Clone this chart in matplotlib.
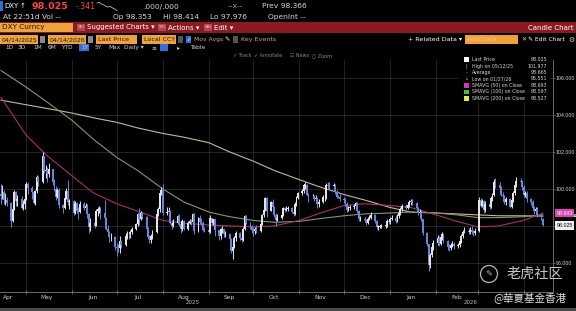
import matplotlib
matplotlib.use('Agg')
import matplotlib.pyplot as plt
import matplotlib.dates as mdates
import matplotlib.patches as patches
import matplotlib.transforms as mtrans
import numpy as np
import pandas as pd

W, H = 576, 311

# DXY daily candles 2025-04-14 .. 2026-04-14, one row = one week
closes = [
    99.64, 99.83, 99.38, 99.38, 99.23,
    98.28, 98.92, 99.85, 99.33, 99.47,
    98.99, 99.21, 99.47, 100.25, 100.03,
    99.83, 99.24, 99.89, 100.64, 100.35,
    101.79, 100.99, 101.04, 100.83, 101.09,
    100.36, 100.02, 99.55, 99.96, 99.11,
    98.99, 99.51, 99.88, 99.27, 99.33,
    98.71, 99.25, 98.79, 98.76, 99.19,
    98.95, 99.09, 98.64, 97.92, 98.18,
    98.02, 98.83, 98.90, 98.92, 98.71,
    98.42, 97.86, 97.67, 97.38, 97.40,
    96.88, 96.81, 96.79, 97.18, 96.97,
    97.48, 97.55, 97.54, 97.65, 97.86,
    98.08, 98.62, 98.40, 98.71, 98.49,
    97.85, 97.39, 97.22, 97.44, 97.65,
    98.63, 98.89, 99.80, 99.97, 98.69,
    98.78, 98.79, 98.18, 98.00, 98.18,
    98.52, 98.10, 97.84, 98.25, 97.85,
    98.17, 98.27, 98.23, 98.62, 97.72,
    98.43, 98.22, 98.18, 97.80, 97.77,
    97.67, 98.41, 98.15, 98.35, 97.77,
    97.45, 97.81, 97.81, 97.54, 97.55,
    97.31, 96.63, 96.87, 97.35, 97.64,
    97.33, 97.25, 97.86, 98.55, 98.15,
    97.94, 97.77, 97.71, 97.86, 97.72,
    98.11, 98.58, 98.86, 99.52, 98.83,
    99.27, 99.03, 98.60, 98.34, 98.43,
    98.58, 98.96, 98.88, 98.94, 98.95,
    98.78, 98.66, 99.20, 99.53, 99.80,
    99.87, 100.21, 100.22, 99.70, 99.60,
    99.63, 99.44, 99.50, 99.16, 99.30,
    99.55, 99.55, 100.23, 100.18, 100.17,
    100.17, 99.82, 99.59, 99.58, 99.46,
    99.40, 99.20, 98.85, 98.98, 99.00,
    99.10, 99.22, 98.80, 98.35, 98.40,
    98.30, 98.15, 98.40, 98.45, 98.60,
    98.25, 97.95, 97.95, 98.00, 98.00,
    98.05, 98.25, 98.20, 98.40, 98.45,
    98.25, 98.55, 98.70, 98.90, 99.10,
    98.95, 99.15, 99.30, 99.35, 99.25,
    98.95, 98.70, 98.75, 98.35, 97.60,
    97.00, 95.90, 96.45, 96.85, 97.10,
    97.35, 97.05, 97.40, 97.55, 97.20,
    96.85, 96.80, 96.95, 97.05, 96.90,
    96.95, 97.20, 97.45, 97.70, 97.75,
    97.70, 97.80, 97.65, 97.60, 97.75,
    99.40, 99.10, 99.35, 98.85, 99.20,
    99.05, 99.50, 99.65, 100.35, 100.20,
    100.05, 99.70, 99.60, 99.30, 99.45,
    99.05, 99.40, 99.80, 100.20, 100.45,
    100.35, 100.10, 99.65, 99.80, 99.45,
    99.30, 98.95, 98.80, 98.90, 98.60,
    98.366, 98.025,
]
opens = [
    99.75, 99.64, 99.83, 99.38, 99.38,
    99.23, 98.28, 98.92, 99.85, 99.33,
    99.47, 98.99, 99.21, 99.47, 100.25,
    100.03, 99.83, 99.24, 99.89, 100.64,
    100.35, 101.79, 100.99, 101.04, 100.83,
    101.09, 100.36, 100.02, 99.55, 99.96,
    99.11, 98.99, 99.51, 99.88, 99.27,
    99.33, 98.71, 99.25, 98.79, 98.76,
    99.19, 98.95, 99.09, 98.64, 97.92,
    98.18, 98.02, 98.83, 98.90, 98.92,
    98.71, 98.42, 97.86, 97.67, 97.38,
    97.40, 96.88, 96.81, 96.79, 97.18,
    96.97, 97.48, 97.55, 97.54, 97.65,
    97.86, 98.08, 98.62, 98.40, 98.71,
    98.49, 97.85, 97.39, 97.22, 97.44,
    97.65, 98.63, 98.89, 99.80, 99.97,
    98.69, 98.78, 98.79, 98.18, 98.00,
    98.18, 98.52, 98.10, 97.84, 98.25,
    97.85, 98.17, 98.27, 98.23, 98.62,
    97.72, 98.43, 98.22, 98.18, 97.80,
    97.77, 97.67, 98.41, 98.15, 98.35,
    97.77, 97.45, 97.81, 97.81, 97.54,
    97.55, 97.31, 96.63, 96.87, 97.35,
    97.64, 97.33, 97.25, 97.86, 98.55,
    98.15, 97.94, 97.77, 97.71, 97.86,
    97.72, 98.11, 98.58, 98.86, 99.52,
    98.83, 99.27, 99.03, 98.60, 98.34,
    98.43, 98.58, 98.96, 98.88, 98.94,
    98.95, 98.78, 98.66, 99.20, 99.53,
    99.80, 99.87, 100.21, 100.22, 99.70,
    99.60, 99.63, 99.44, 99.50, 99.16,
    99.30, 99.55, 99.55, 100.23, 100.18,
    100.17, 100.17, 99.82, 99.59, 99.58,
    99.46, 99.40, 99.20, 98.85, 98.98,
    99.00, 99.10, 99.22, 98.80, 98.35,
    98.40, 98.30, 98.15, 98.40, 98.45,
    98.60, 98.25, 97.95, 97.95, 98.00,
    98.00, 98.05, 98.25, 98.20, 98.40,
    98.45, 98.25, 98.55, 98.70, 98.90,
    99.10, 98.95, 99.15, 99.30, 99.35,
    99.25, 98.95, 98.70, 98.75, 98.35,
    97.60, 97.00, 95.90, 96.45, 96.85,
    97.10, 97.35, 97.05, 97.40, 97.55,
    97.20, 96.85, 96.80, 96.95, 97.05,
    96.90, 96.95, 97.20, 97.45, 97.70,
    97.75, 97.70, 97.80, 97.65, 97.60,
    97.75, 99.40, 99.10, 99.35, 98.85,
    99.20, 99.05, 99.50, 99.65, 100.35,
    100.20, 100.05, 99.70, 99.60, 99.30,
    99.45, 99.05, 99.40, 99.80, 100.20,
    100.45, 100.35, 100.10, 99.65, 99.80,
    99.45, 99.30, 98.95, 98.80, 98.90,
    98.60, 98.353,
]
highs = [
    100.28, 100.20, 99.92, 99.78, 99.55,
    99.30, 99.10, 99.95, 99.90, 99.70,
    99.60, 99.40, 99.70, 100.38, 100.40,
    100.15, 99.90, 99.95, 100.75, 100.70,
    101.977, 101.80, 101.30, 101.20, 101.40,
    101.10, 100.55, 100.15, 100.05, 100.05,
    99.20, 99.60, 100.05, 100.50, 99.45,
    99.40, 99.35, 99.30, 99.00, 99.35,
    99.30, 99.25, 99.20, 98.70, 98.45,
    98.35, 98.90, 99.05, 99.10, 99.00,
    99.40, 98.50, 98.05, 97.75, 97.60,
    97.45, 97.10, 97.05, 97.45, 97.25,
    97.60, 97.75, 97.70, 97.80, 97.95,
    98.15, 98.70, 98.95, 98.80, 98.75,
    98.55, 97.95, 97.50, 97.55, 97.80,
    98.70, 99.00, 99.95, 100.10, 100.25,
    99.00, 99.05, 98.85, 98.30, 98.35,
    98.60, 98.65, 98.15, 98.35, 98.30,
    98.25, 98.35, 98.35, 98.70, 98.70,
    98.50, 98.60, 98.45, 98.25, 97.95,
    97.85, 98.60, 98.45, 98.40, 98.40,
    97.80, 97.90, 98.00, 97.85, 97.75,
    97.60, 97.35, 97.20, 97.45, 97.75,
    97.70, 97.50, 97.95, 98.60, 98.60,
    98.20, 98.05, 97.95, 97.95, 98.05,
    98.20, 98.65, 99.05, 99.55, 99.55,
    99.35, 99.45, 99.10, 98.70, 98.65,
    98.70, 99.00, 99.05, 99.10, 99.10,
    99.00, 98.85, 99.30, 99.60, 99.85,
    100.00, 100.25, 100.36, 100.25, 99.80,
    99.75, 99.70, 99.65, 99.55, 99.45,
    99.65, 99.70, 100.30, 100.35, 100.40,
    100.30, 100.25, 99.95, 99.70, 99.75,
    99.55, 99.50, 99.30, 99.10, 99.15,
    99.20, 99.30, 99.30, 98.85, 98.55,
    98.50, 98.35, 98.50, 98.60, 98.75,
    98.65, 98.30, 98.05, 98.05, 98.10,
    98.15, 98.35, 98.30, 98.50, 98.60,
    98.60, 98.65, 98.80, 99.00, 99.20,
    99.20, 99.25, 99.40, 99.45, 99.45,
    99.30, 99.05, 98.90, 98.85, 98.40,
    97.65, 97.05, 96.55, 96.95, 97.25,
    97.50, 97.45, 97.55, 97.65, 97.60,
    97.25, 97.05, 97.10, 97.20, 97.15,
    97.10, 97.30, 97.55, 97.80, 97.95,
    97.90, 97.95, 98.00, 97.80, 97.90,
    99.55, 99.50, 99.45, 99.40, 99.35,
    99.30, 99.60, 99.80, 100.55, 100.60,
    100.35, 100.15, 99.85, 99.70, 99.55,
    99.50, 99.50, 99.90, 100.30, 100.65,
    100.60, 100.50, 100.20, 99.90, 99.90,
    99.50, 99.40, 99.10, 99.05, 99.00,
    98.70, 98.414,
]
lows = [
    99.20, 99.45, 99.20, 99.15, 99.10,
    97.92, 98.20, 98.85, 99.10, 99.10,
    98.90, 98.85, 98.90, 99.40, 99.75,
    99.45, 99.20, 99.15, 99.80, 100.15,
    100.30, 100.85, 100.60, 100.40, 100.65,
    100.20, 99.90, 99.40, 99.50, 98.95,
    98.70, 98.90, 99.45, 99.15, 98.90,
    98.58, 98.65, 98.70, 98.35, 98.70,
    98.85, 98.80, 98.45, 97.60, 97.75,
    97.90, 98.00, 98.55, 98.70, 98.40,
    98.30, 97.80, 97.60, 97.15, 97.20,
    96.70, 96.38, 96.60, 96.55, 96.80,
    96.90, 97.30, 97.30, 97.35, 97.55,
    97.80, 98.00, 98.05, 98.30, 98.35,
    97.80, 97.30, 97.10, 97.10, 97.30,
    97.60, 98.55, 98.75, 99.70, 98.60,
    98.60, 98.55, 98.10, 97.85, 97.95,
    98.10, 98.00, 97.60, 97.75, 97.80,
    97.80, 98.10, 98.05, 98.20, 97.55,
    97.70, 98.10, 98.05, 97.75, 97.65,
    97.55, 97.60, 98.05, 98.05, 97.45,
    97.25, 97.30, 97.60, 97.40, 97.40,
    97.20, 96.55, 96.22, 96.80, 97.20,
    97.25, 97.15, 97.20, 97.80, 98.10,
    97.85, 97.60, 97.45, 97.55, 97.60,
    97.70, 98.05, 98.50, 98.80, 98.50,
    98.80, 98.85, 98.50, 98.00, 98.25,
    98.40, 98.55, 98.75, 98.80, 98.80,
    98.70, 98.55, 98.60, 99.10, 99.45,
    99.65, 99.80, 100.00, 99.65, 99.30,
    99.50, 99.35, 99.35, 98.95, 99.05,
    99.25, 99.35, 99.45, 100.00, 100.00,
    99.95, 99.75, 99.50, 99.50, 99.35,
    99.25, 99.10, 98.75, 98.80, 98.85,
    98.90, 98.95, 98.70, 98.25, 98.25,
    98.20, 98.05, 98.10, 98.30, 98.35,
    98.15, 97.85, 97.80, 97.90, 97.90,
    97.90, 97.95, 98.10, 98.10, 98.30,
    98.15, 98.20, 98.45, 98.60, 98.80,
    98.85, 98.90, 99.05, 99.15, 99.15,
    98.85, 98.60, 98.55, 98.25, 97.50,
    96.90, 95.551, 95.75, 96.30, 96.70,
    96.95, 96.90, 96.95, 97.25, 97.10,
    96.70, 96.65, 96.70, 96.85, 96.75,
    96.80, 96.85, 97.10, 97.35, 97.60,
    97.55, 97.55, 97.55, 97.45, 97.50,
    97.70, 99.00, 99.00, 98.70, 98.75,
    98.90, 98.95, 99.35, 99.60, 100.05,
    99.95, 99.60, 99.45, 99.20, 99.15,
    98.95, 98.95, 99.30, 99.70, 100.10,
    100.20, 99.95, 99.55, 99.55, 99.30,
    99.15, 98.85, 98.65, 98.70, 98.50,
    98.30, 97.976,
]

# moving averages (semi-monthly points)
ma_dates = ['2025-04-14', '2025-05-01', '2025-05-15', '2025-06-01', '2025-06-15',
            '2025-07-01', '2025-07-15', '2025-08-01', '2025-08-15', '2025-09-01',
            '2025-09-15', '2025-10-01', '2025-10-15', '2025-11-01', '2025-11-15',
            '2025-12-01', '2025-12-15', '2026-01-01', '2026-01-15', '2026-02-01',
            '2026-02-15', '2026-03-01', '2026-03-15', '2026-04-01', '2026-04-14']
sma50 = [104.95, 102.9, 101.8, 100.7, 99.8, 99.2, 98.8, 98.3, 98.15, 98.05,
         98.0, 97.95, 98.0, 98.3, 98.7, 99.1, 99.2, 99.1, 99.0, 98.6,
         98.25, 97.95, 98.0, 98.3, 98.693]
sma100 = [106.4, 105.5, 104.7, 103.7, 102.7, 101.7, 101.0, 100.0, 99.3, 98.75,
          98.5, 98.3, 98.2, 98.25, 98.4, 98.55, 98.65, 98.7, 98.75, 98.7,
          98.6, 98.45, 98.45, 98.5, 98.597]
sma200 = [104.8, 104.55, 104.35, 104.1, 103.85, 103.6, 103.3, 103.0, 102.8, 102.5,
          102.0, 101.5, 101.0, 100.5, 100.1, 99.7, 99.4, 99.0, 98.75, 98.7,
          98.65, 98.6, 98.55, 98.55, 98.527]

month_labels = ['Apr', 'May', 'Jun', 'Jul', 'Aug', 'Sep', 'Oct', 'Nov', 'Dec', 'Jan', 'Feb']
yticks = [96, 98, 100, 102, 104, 106]
ytick_labels = ['96.000', '', '100.000', '102.000', '104.000', '106.000']

legend_names = ['Last Price', 'High on 05/12/25', 'Average', 'Low on 01/27/26',
                'SMAVG (50) on Close', 'SMAVG (100) on Close', 'SMAVG (200) on Close']
legend_vals = ['98.025', '101.977', '98.665', '95.551', '98.693', '98.597', '98.527']

C50, C100, C200 = '#a8306a', '#7f9c62', '#c4b98c'
ORANGE = '#f0a238'
AMBER = '#e8a040'

plt.rcParams['font.family'] = ['DejaVu Sans']
fig = plt.figure(figsize=(W / 100, H / 100), dpi=100, facecolor='black')


def fx(x):
    return x / W


def fy(y):
    return 1 - y / H


def put(x, y, s, size=5.0, color='#d6d6d6', ha='left', weight='normal', **kw):
    fig.text(fx(x), fy(y), s, fontsize=size, color=color, ha=ha, va='center',
             fontweight=weight, **kw)


def rect(x0, y0, x1, y1, color, **kw):
    fig.patches.append(patches.Rectangle((fx(x0), fy(y1)), (x1 - x0) / W, (y1 - y0) / H,
                                         transform=fig.transFigure, facecolor=color,
                                         edgecolor='none', **kw))


# ---- main chart ----
ax = fig.add_axes([0, fy(292), fx(553), (292 - 60) / H])
ax.set_facecolor('black')

d = pd.bdate_range('2025-04-14', '2026-04-14')
x = mdates.date2num(d)
o, c, hi, lo = map(np.array, (opens, closes, highs, lows))
up = c >= o
cols = np.where(up, '#e4e4e4', '#6688dc')
ax.vlines(x, lo, hi, colors=cols, lw=0.7, zorder=3)
ax.bar(x, np.maximum(np.abs(c - o), 0.04), bottom=np.minimum(o, c), width=1.25,
       color=cols, lw=0, zorder=3)

md = pd.to_datetime(ma_dates)
ax.plot(md, sma200, color=C200, lw=0.8, zorder=2)
ax.plot(md, sma100, color=C100, lw=0.8, zorder=2)
ax.plot(md, sma50, color=C50, lw=0.8, zorder=2)

ax.set_xlim(pd.Timestamp('2025-04-13 08:00'), pd.Timestamp('2026-04-20 18:00'))
ax.set_ylim(94.43, 106.97)

ax.set_xticks(pd.date_range('2025-05-01', '2026-04-01', freq='MS'))
ax.set_xticklabels([])
mids = pd.date_range('2025-04-01', '2026-02-01', freq='MS') + pd.Timedelta(days=14)
ax.set_xticks(mids, minor=True)
ax.set_xticklabels(month_labels, minor=True)
ax.get_xticklabels(minor=True)[0].set_horizontalalignment('left')
ax.tick_params(axis='x', which='major', length=3, direction='inout', color='#888888', width=0.5)
ax.tick_params(axis='x', which='minor', length=0, pad=2, labelsize=4.3, labelcolor='#cfcfcf')

ax.yaxis.tick_right()
ax.set_yticks(yticks)
ax.set_yticklabels(ytick_labels, fontfamily='Liberation Sans')
ax.tick_params(axis='y', length=1.5, width=0.5, color='#888888', pad=0.6,
               labelsize=3.8, labelcolor='#d6d6d6')
ax.grid(which='major', color='#333333', lw=0.5)
ax.set_axisbelow(True)
for s in ('top', 'left'):
    ax.spines[s].set_visible(False)
for s in ('bottom', 'right'):
    ax.spines[s].set_color('#7a7a7a')
    ax.spines[s].set_linewidth(0.6)

# price tags on the right axis: 200 and 100 peek out as strips under the 50 tag
trans = mtrans.blended_transform_factory(ax.transAxes, ax.transData)
for val, fc in [(98.527, '#d8cf5a'), (98.597, '#5bb05b')]:
    ax.add_patch(patches.Rectangle((1.004, val - 0.07), 0.04, 0.14, transform=trans,
                                   facecolor=fc, edgecolor='none', clip_on=False, zorder=4))
for val, txt, fc, tc in [(98.693, '98.693', '#e040b0', 'white'),
                         (98.025, '98.025', '#f0f0f0', 'black')]:
    ax.text(1.006, val, txt, transform=trans, ha='left', va='center', fontsize=3.8,
            color=tc, clip_on=False, zorder=5, fontfamily='Liberation Sans',
            bbox=dict(boxstyle='square,pad=0.3', fc=fc, ec='none'))

put(193, 302, '2025', size=4.0, color='#bbbbbb', ha='center')
put(471, 303, '2026', size=4.0, color='#bbbbbb', ha='center')

# ---- legend ----
rect(458, 55, 550, 102, 'black')
sq_cols = ['white', None, None, None, '#e030b0', '#40c040', '#e8e840']
marks = [None, '|', '-', '\u2193', None, None, None]
for i, (name, val) in enumerate(zip(legend_names, legend_vals)):
    yy = 59.6 + i * 6.45
    if sq_cols[i]:
        rect(464, yy - 2.3, 469, yy + 2.3, sq_cols[i])
    else:
        put(466.5, yy, marks[i], size=3.4, color='#bbbbbb', ha='center')
    put(472, yy, name, size=3.4, color='#d8d8d8')
    put(547, yy, val, size=3.4, color='#d8d8d8', ha='right')

# ---- header ----
rect(0, 1, 3, 11, '#2f6fe0')
put(4, 6.5, 'DXY', size=5.0, color='white')
put(20, 6.5, '\u2191', size=5.0, color='white')
put(31, 6.5, '98.025', size=6.8, color='#ff4545', weight='bold')
put(76, 6.5, '-.341', size=5.6, color='#ff4545')
spark = fig.add_axes([fx(96), fy(11), 22 / W, 9 / H])
spark.plot(closes[-10:], color='#bdbdbd', lw=0.6)
spark.axis('off')
put(143, 6.5, '.000/.000', size=5.4)
put(228, 6.5, '--x--', size=5.4, color='#aaaaaa')
put(262, 6.5, 'Prev 98.366', size=5.4)

put(3, 17, 'At 22:51d Vol --', size=5.4)
put(113, 17, 'Op 98.353', size=5.4)
put(163, 17, 'Hi 98.414', size=5.4)
put(210, 17, 'Lo 97.976', size=5.4)
put(268, 17, 'OpenInt --', size=5.4)

rect(0, 22, 576, 33, '#8c1a22')
rect(0, 23, 73, 32, ORANGE)
put(2, 27.5, 'DXY Curncy', size=5.2, color='#1a1a1a')
for x0, num, lab in [(77, '96)', 'Suggested Charts \u25be'), (158, '97)', 'Actions \u25be'),
                     (204, '98)', 'Edit \u25be')]:
    rect(x0, 24, x0 + 8, 31, '#b5454d')
    put(x0 + 0.5, 27.5, num, size=3.2, color='#f0d0d0')
    put(x0 + 10, 27.5, lab, size=5.0, color='white')
put(574, 27.5, 'Candle Chart', size=5.0, color='white', ha='right')

rect(0, 35, 38, 44, ORANGE)
put(1.5, 39.5, '04/14/2025', size=4.5, color='#1a1a1a')
rect(39.5, 36, 44.5, 43, '#8a8a8a')
rect(48, 35, 86, 44, ORANGE)
put(49.5, 39.5, '04/14/2026', size=4.5, color='#1a1a1a')
rect(87.5, 36, 92.5, 43, '#8a8a8a')
rect(96, 35, 137, 44, ORANGE)
put(98, 39.5, 'Last Price', size=4.6, color='#1a1a1a')
rect(142, 35, 176, 44, ORANGE)
put(144, 39.5, 'Local CCY', size=4.6, color='#1a1a1a')
rect(178, 36, 183, 43, '#555555')
rect(186, 36, 191, 43, '#2f6fe0')
put(188.5, 39.5, '\u2713', size=4.0, color='white', ha='center')
put(193.5, 39.5, 'Mov Avgs', size=4.4, color=AMBER)
put(224, 39.5, '\u270e', size=4.6, color='white')
rect(233, 36, 238, 43, '#555555')
put(241, 39.5, 'Key Events', size=4.6, color=AMBER)

put(408, 39.5, '+ Related Data \u25be', size=4.6, color='white')
rect(465, 35, 518, 44, ORANGE)
put(467, 39.5, 'Add Data', size=4.5, color='#f8c880')
put(524, 39.5, '\u2715', size=4.4, color='#cccccc', ha='center')
put(528.5, 39.5, '\u270e Edit Chart', size=4.3, color='white')
put(571.5, 39.5, '\u2699', size=5.0, color='#cccccc', ha='center')

for xx, lab in [(5, '1D'), (18, '3D'), (33, '1M'), (48, '6M'), (61, 'YTD'), (81, '1Y'),
                (95, '5Y'), (108, 'Max'), (124, 'Daily \u25be'), (151, '\u2261'),
                (177, '\u25b8'), (190, 'Table')]:
    if lab == '1Y':
        rect(79, 44, 89, 51, '#2f6fe0')
    put(xx, 47.5, lab, size=4.2, color='#d0d0d0')
rect(160, 44, 168, 51, '#2f6fe0')

for xx, lab in [(233, '\u2713 Track'), (254, '\u2713 Annotate'), (290, '\u2637 News'),
                (312, '\u25cb Zoom')]:
    put(xx, 55.5, lab, size=3.5, color='#8a8a8a')

# ---- watermark ----
fig.patches.append(patches.Ellipse((fx(489), fy(274)), 17 / W, 17 / H,
                                   transform=fig.transFigure, facecolor='none',
                                   edgecolor='#d8d8d8', lw=0.9, alpha=0.85))
put(489, 274, '\u270e', size=6, color='#d8d8d8', ha='center', alpha=0.85)
put(507, 273.5, '老虎社区', size=10.2, color='#dcdcdc', alpha=0.9,
    family=['Noto Sans CJK SC', 'DejaVu Sans'])
put(493, 299, '@華夏基金香港', size=7.6, color='#e0e0e0',
    family=['Noto Sans CJK TC', 'DejaVu Sans'])

rect(0, 308, 576, 311, '#4a4a4a')

fig.savefig('out.png', dpi=100, facecolor='black')
